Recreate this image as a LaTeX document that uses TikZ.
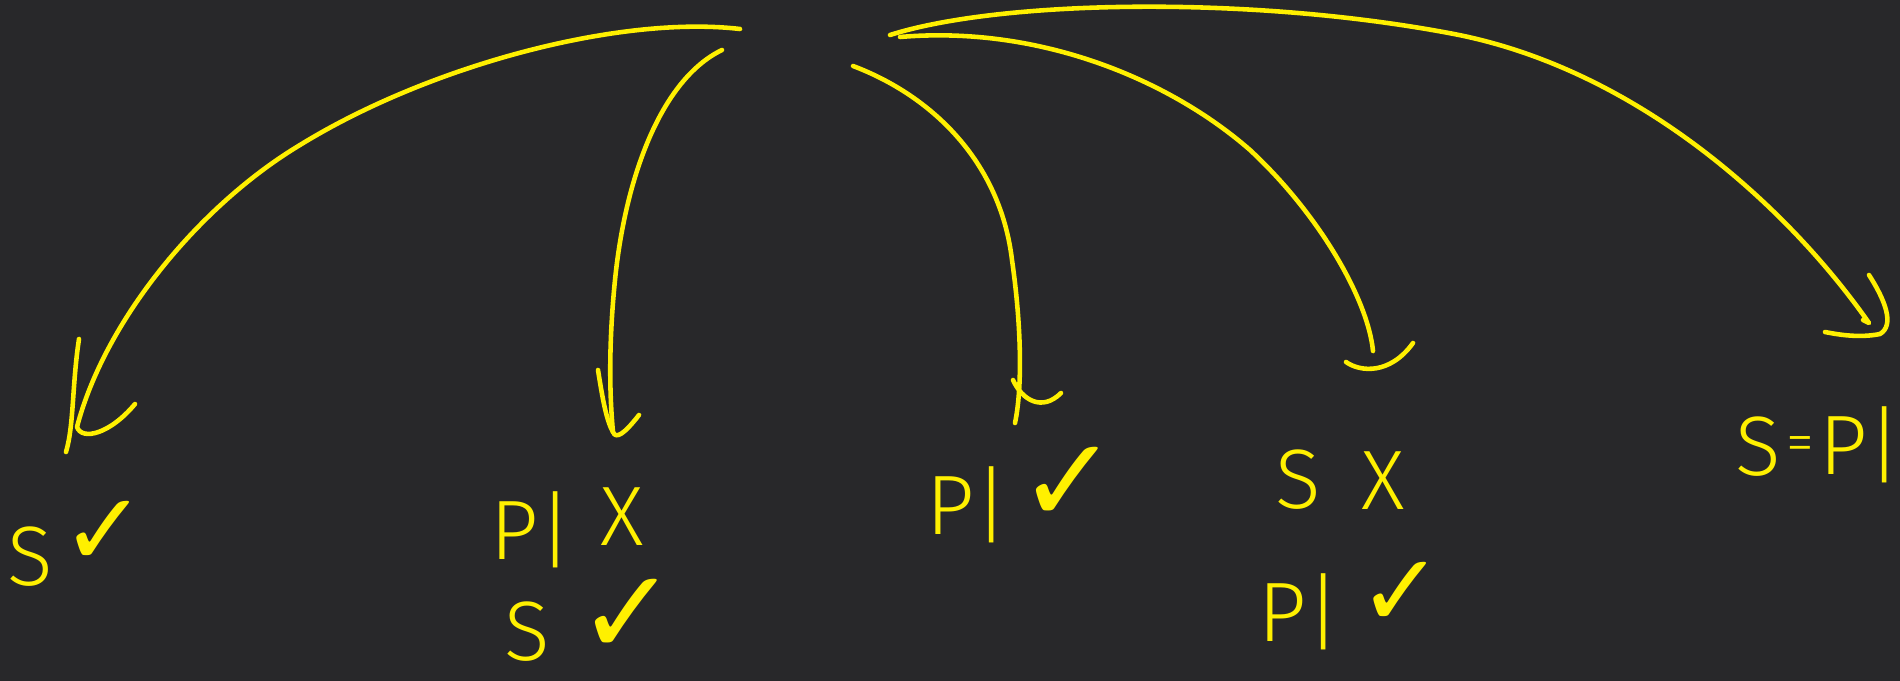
\documentclass[tikz,border=0pt]{standalone}
\usepackage{fontspec}
\newfontfamily\handfont{Fira Sans Light}
\newfontfamily\symfont{DejaVu Sans}
\definecolor{boardBg}{RGB}{40,40,42}
\definecolor{penYellow}{RGB}{255,240,0}

\begin{document}
\begin{tikzpicture}[
    x=0.1mm, y=-0.1mm, % 1 unit = 1 pixel, y nach unten
    % --- Stile ---
    penLine/.style={draw=penYellow, line width=1.3pt, line cap=round, line join=round},
    handText/.style={text=penYellow, font=\handfont\fontsize{24}{24}\selectfont, inner sep=0pt},
    handSym/.style={text=penYellow, font=\symfont\fontsize{29}{29}\selectfont, inner sep=0pt},
    bigSym/.style={handSym, font=\symfont\fontsize{34}{34}\selectfont}
]

    % ===========================
    % 0. TAFEL
    % ===========================
    \fill[boardBg] (0,0) rectangle (1900,681);
    \useasboundingbox (0,0) rectangle (1900,681);

    % ===========================
    % 1. START- UND ENDPUNKTE
    % ===========================
    \coordinate (src1) at (740,29);
    \coordinate (src2) at (722,50);
    \coordinate (src3) at (853,66);
    \coordinate (src4) at (900,37);
    \coordinate (src5) at (890,35);

    \coordinate (tip1) at (77,427);
    \coordinate (tip2) at (613,432);
    \coordinate (tip3) at (1015,423);
    \coordinate (tip4) at (1373,351);
    \coordinate (tip5) at (1869,323);

    % ===========================
    % 2. BESCHRIFTUNGEN
    % ===========================
    \node[handText] (sA)   at (30,557)   {S};
    \node[handSym]  (okA)  at (104,533)  {✓};

    \node[handText] (pB)   at (532,530)  {P|};
    \node[handText] (noB)  at (622,517)  {X};
    \node[handText] (sB)   at (527,632)  {S};
    \node[bigSym]   (okB)  at (628,617)  {✓};

    \node[handText] (pC)   at (968,505)  {P|};
    \node[bigSym]   (okC)  at (1069,485) {✓};

    \node[handText] (sD)   at (1298,480) {S};
    \node[handText] (noD)  at (1383,481) {X};
    \node[handText] (pD)   at (1300,612) {P|};
    \node[handSym]  (okD)  at (1401,594) {✓};

    \node[handText] (sE)   at (1758,447) {S};
    \node[handText, font=\handfont\fontsize{16}{16}\selectfont] (eqE) at (1800,449) {=};
    \node[handText] (pE)   at (1861,445) {P|};

    % ===========================
    % 3. BOEGEN MIT PFEILSPITZEN
    % ===========================

    % Bogen nach ganz links
    \draw[penLine] (src1) .. controls (620,15) and (430,65) .. (300,145)
        .. controls (200,205) and (105,320) .. (tip1)
        .. controls +(5,14) and +(-25,30) .. (135,404);
    \draw[penLine] (79,339) .. controls (72,385) and (74,425) .. (66,452);

    % Bogen nach P| X
    \draw[penLine] (src2) .. controls (660,80) and (625,180) .. (615,280)
        .. controls (608,350) and (610,400) .. (tip2)
        .. controls +(3,8) and +(-14,18) .. (639,415);
    \draw[penLine] (598,370) .. controls (602,395) and (606,420) .. (tip2);

    % Bogen nach P| (Mitte)
    \draw[penLine] (src3) .. controls (930,95) and (1000,160) .. (1012,260)
        .. controls (1022,330) and (1022,390) .. (tip3);
    \draw[penLine] (1013,380) .. controls (1022,400) and (1042,412) .. (1061,393);

    % Bogen nach S X
    \draw[penLine] (src4) .. controls (1040,25) and (1170,80) .. (1250,150)
        .. controls (1320,215) and (1368,300) .. (tip4);
    \draw[penLine] (1346,362) .. controls (1360,372) and (1390,375) .. (1413,343);

    % Bogen nach S = P|
    \draw[penLine] (src5) .. controls (1000,0) and (1250,-5) .. (1454,34)
        .. controls (1640,70) and (1790,210) .. (tip5) -- ++(-6,-3);
    \draw[penLine] (1869,275) .. controls (1885,300) and (1895,325) .. (1880,334)
        .. controls (1860,338) and (1840,335) .. (1825,332);

\end{tikzpicture}
\end{document}
